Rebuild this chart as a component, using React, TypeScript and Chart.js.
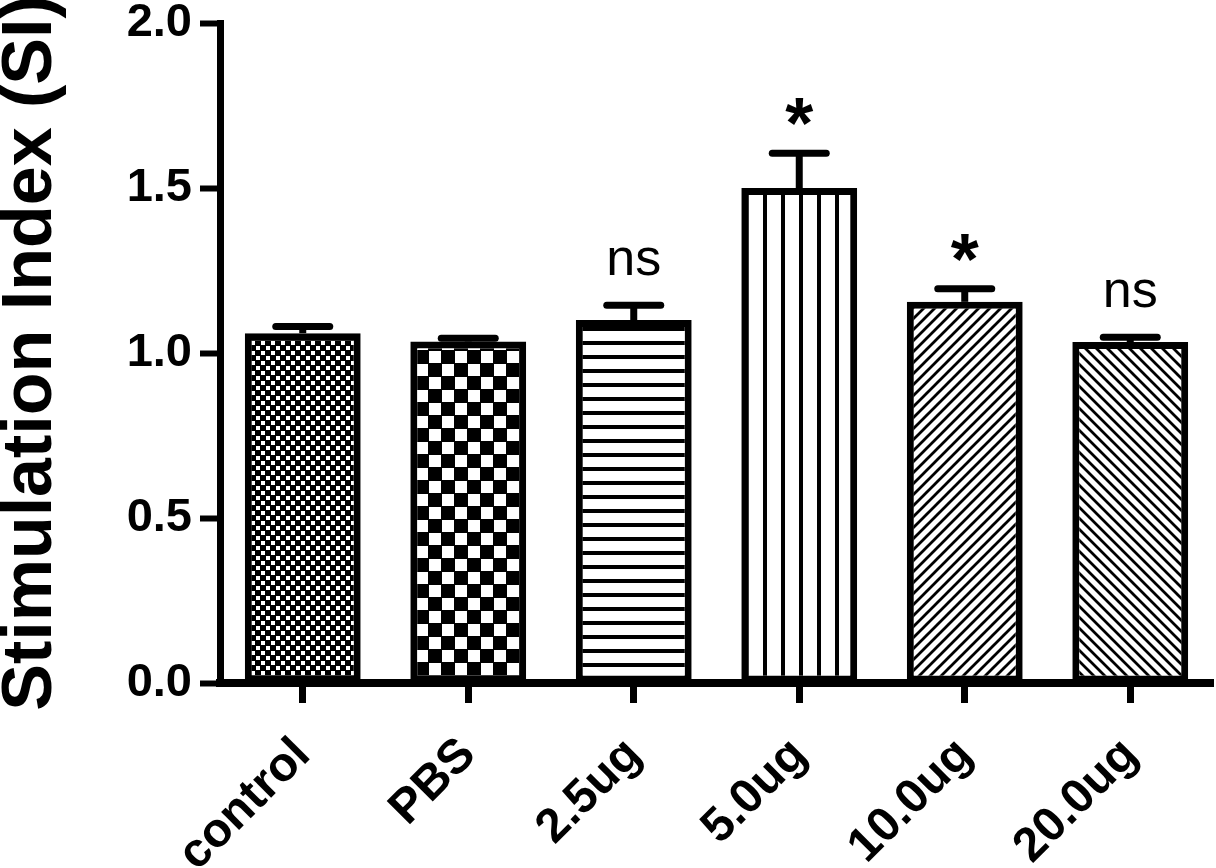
import { useEffect, useRef } from 'react';
import { Chart, registerables } from 'chart.js';

Chart.register(...registerables);

const groups = ['control', 'PBS', '2.5ug', '5.0ug', '10.0ug', '20.0ug'];
const meanSI = [1.06, 1.035, 1.1, 1.5, 1.155, 1.033];
const semSI = [0.02, 0.01, 0.045, 0.105, 0.04, 0.015];
const significance = ['', '', 'ns', '*', '*', 'ns'];
const yTicks = [0, 0.5, 1.0, 1.5, 2.0];

const FONT = "'Liberation Sans', Arial, Helvetica, sans-serif";

function tile(size: number, draw: (g: CanvasRenderingContext2D, s: number) => void) {
  const c = document.createElement('canvas');
  c.width = size;
  c.height = size;
  const g = c.getContext('2d')!;
  g.fillStyle = '#fff';
  g.fillRect(0, 0, size, size);
  g.fillStyle = '#000';
  g.strokeStyle = '#000';
  draw(g, size);
  return g.createPattern(c, 'repeat')!;
}

function makePatterns() {
  const fineCheck = tile(10, (g, s) => {
    g.fillRect(0, 0, s, s);
    g.fillStyle = '#fff';
    g.fillRect(1, 1, 4, 4);
    g.fillRect(6, 6, 4, 4);
  });
  const coarseCheck = tile(26, (g) => {
    g.fillRect(0, 0, 26, 26);
    g.fillStyle = '#fff';
    g.fillRect(0, 0, 12, 12);
    g.fillRect(13, 13, 12, 12);
  });
  const hLines = tile(14, (g, s) => g.fillRect(0, 5, s, 4));
  const vLines = tile(18, (g, s) => g.fillRect(7, 0, 4, s));
  const diagUp = tile(11, (g, s) => {
    g.lineWidth = 2.8;
    g.beginPath();
    g.moveTo(-2, s + 2); g.lineTo(s + 2, -2);
    g.moveTo(-s / 2 - 2, s / 2 + 2); g.lineTo(s / 2 + 2, -s / 2 - 2);
    g.moveTo(s / 2 - 2, s * 1.5 + 2); g.lineTo(s * 1.5 + 2, s / 2 - 2);
    g.stroke();
  });
  const diagDown = tile(11, (g, s) => {
    g.lineWidth = 2.8;
    g.beginPath();
    g.moveTo(-2, -2); g.lineTo(s + 2, s + 2);
    g.moveTo(-s / 2 - 2, s / 2 - 2); g.lineTo(s / 2 + 2, s * 1.5 + 2);
    g.moveTo(s / 2 - 2, -s / 2 - 2); g.lineTo(s * 1.5 + 2, s / 2 + 2);
    g.stroke();
  });
  return [fineCheck, coarseCheck, hLines, vLines, diagUp, diagDown];
}

const errorBars = {
  id: 'errorBars',
  afterDatasetsDraw(chart: Chart) {
    const ctx = chart.ctx;
    const meta = chart.getDatasetMeta(0);
    const y = chart.scales.y;
    ctx.save();
    ctx.strokeStyle = '#000';
    ctx.fillStyle = '#000';
    meta.data.forEach((bar: any, i: number) => {
      const x = bar.x;
      const top = y.getPixelForValue(meanSI[i] + semSI[i]);
      ctx.lineWidth = 7;
      ctx.lineCap = 'butt';
      ctx.beginPath();
      ctx.moveTo(x, bar.y);
      ctx.lineTo(x, top);
      ctx.stroke();
      ctx.lineCap = 'round';
      ctx.beginPath();
      ctx.moveTo(x - 27, top);
      ctx.lineTo(x + 27, top);
      ctx.stroke();

      const mark = significance[i];
      ctx.textAlign = 'center';
      ctx.textBaseline = 'alphabetic';
      if (mark === 'ns') {
        ctx.font = `52px ${FONT}`;
        ctx.fillText(mark, x, top - 30);
      } else if (mark === '*') {
        ctx.font = `bold 72px ${FONT}`;
        ctx.fillText(mark, x, top - 5);
      }
    });
    ctx.restore();
  },
};

export default function App() {
  const canvasRef = useRef<HTMLCanvasElement>(null);
  const chartRef = useRef<Chart | null>(null);

  useEffect(() => {
    if (!canvasRef.current) return;
    chartRef.current?.destroy();

    chartRef.current = new Chart(canvasRef.current, {
      type: 'bar',
      data: {
        labels: groups,
        datasets: [
          {
            data: meanSI,
            backgroundColor: makePatterns(),
            borderColor: '#000',
            borderWidth: 7,
            borderSkipped: false,
            categoryPercentage: 1,
            barPercentage: 0.7,
          },
        ],
      },
      options: {
        responsive: true,
        maintainAspectRatio: false,
        animation: false,
        layout: { padding: { top: 23, right: 3, left: 0, bottom: 0 } },
        plugins: {
          legend: { display: false },
          tooltip: { enabled: false },
        },
        scales: {
          x: {
            afterFit: (s: any) => {
              s.height = 185;
              s.paddingLeft = 0;
              s.paddingRight = 0;
            },
            grid: {
              offset: false,
              drawOnChartArea: false,
              tickLength: 20,
              tickWidth: 7,
              tickColor: '#000',
            },
            border: { color: '#000', width: 8 },
            ticks: {
              color: '#000',
              font: { family: FONT, size: 48, weight: 'bold' },
              minRotation: 45,
              maxRotation: 45,
              autoSkip: false,
              padding: 24,
            },
          },
          y: {
            min: 0,
            max: 2,
            afterFit: (s: any) => {
              s.width = 220;
              s.paddingTop = 0;
              s.paddingBottom = 0;
            },
            afterBuildTicks: (s: any) => { s.ticks = yTicks.map(v => ({ value: v })); },
            grid: {
              drawOnChartArea: false,
              tickLength: 20,
              tickWidth: 6,
              tickColor: '#000',
            },
            border: { color: '#000', width: 7 },
            ticks: {
              color: '#000',
              font: { family: FONT, size: 47, weight: 'bold' },
              padding: 8,
              callback: (v: any) => Number(v).toFixed(1),
            },
            title: {
              display: true,
              text: 'Stimulation Index (SI)',
              color: '#000',
              font: { family: FONT, size: 70, weight: 'bold', lineHeight: 0.9 },
              padding: 0,
            },
          },
        },
      },
      plugins: [errorBars],
    });

    return () => { chartRef.current?.destroy(); };
  }, []);

  return (
    <div style={{ position: 'fixed', left: 0, top: 0, width: 1216, height: 868, background: '#fff' }}>
      <canvas ref={canvasRef} />
    </div>
  );
}
